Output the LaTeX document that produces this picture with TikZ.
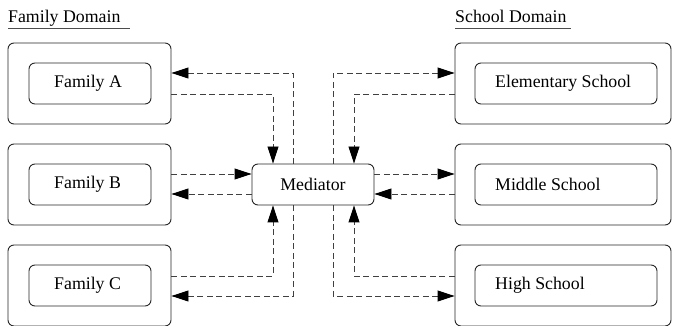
\documentclass[tikz,border=0pt]{standalone}
\usepackage{fontspec}
\setmainfont{Liberation Serif}
\usetikzlibrary{arrows.meta}
\begin{document}
\begin{tikzpicture}[x=1pt,y=-1pt,
  boxline/.style={draw=black!85, line width=0.9pt, rounded corners=6pt, inner sep=0pt},
  outerbox/.style={boxline, minimum height=81pt},
  innerbox/.style={boxline, minimum height=41pt},
  label/.style={font=\fontsize{17.8}{20}\selectfont, inner sep=0pt},
  flow/.style={draw=black!75, line width=0.9pt, dash pattern=on 6pt off 3.5pt,
    -{Triangle[length=17pt,width=11pt,color=black,fill=black]}}]
\useasboundingbox (0,0) rectangle (673,326);

% domain headings
\node[label, anchor=base west] (famhead) at (8,22.5) {Family Domain};
\node[label, anchor=base west] (schhead) at (455,22.5) {School Domain};
\draw[line width=0.9pt, black!70] (famhead.west |- 0,28) -- (130,28);
\draw[line width=0.9pt, black!70] (schhead.west |- 0,28) -- (571,28);

% family side
\foreach \n/\t/\y in {fa/Family A/83.5, fb/Family B/184.5, fc/Family C/285.5}{
  \node[outerbox, minimum width=163pt] (\n o) at (89.5,\y) {};
  \node[innerbox, minimum width=122pt] (\n i) at (90,\y) {};
  \node[label, anchor=west] (\n) at (54,\y) {\t};
}
% school side
\foreach \n/\t/\y in {es/Elementary School/83.5, ms/Middle School/184.5, hs/High School/285.5}{
  \node[outerbox, minimum width=216pt] (\n o) at (563,\y) {};
  \node[innerbox, minimum width=182pt] (\n i) at (566,\y) {};
  \node[label, anchor=west] (\n) at (495,\y) {\t};
}

% mediator
\node[boxline, minimum width=122pt, minimum height=41pt, label] (med) at (313,184.5) {Mediator};

% Family A
\draw[flow] (med.north -| 293,0) |- (fao.east |- 0,73);
\draw[flow] (fao.east |- 0,94) -| (med.north -| 273,0);
% Elementary School
\draw[flow] (med.north -| 333,0) |- (eso.west |- 0,73);
\draw[flow] (eso.west |- 0,94) -| (med.north -| 354,0);
% Family B
\draw[flow] (fbo.east |- 0,174) -- (med.west |- 0,174);
\draw[flow] (med.west |- 0,194) -- (fbo.east |- 0,194);
% Middle School
\draw[flow] (med.east |- 0,174) -- (mso.west |- 0,174);
\draw[flow] (mso.west |- 0,194) -- (med.east |- 0,194);
% Family C
\draw[flow] (fco.east |- 0,276) -| (med.south -| 273,0);
\draw[flow] (med.south -| 293,0) |- (fco.east |- 0,296);
% High School
\draw[flow] (med.south -| 333,0) |- (hso.west |- 0,296);
\draw[flow] (hso.west |- 0,276) -| (med.south -| 354,0);
\end{tikzpicture}
\end{document}
